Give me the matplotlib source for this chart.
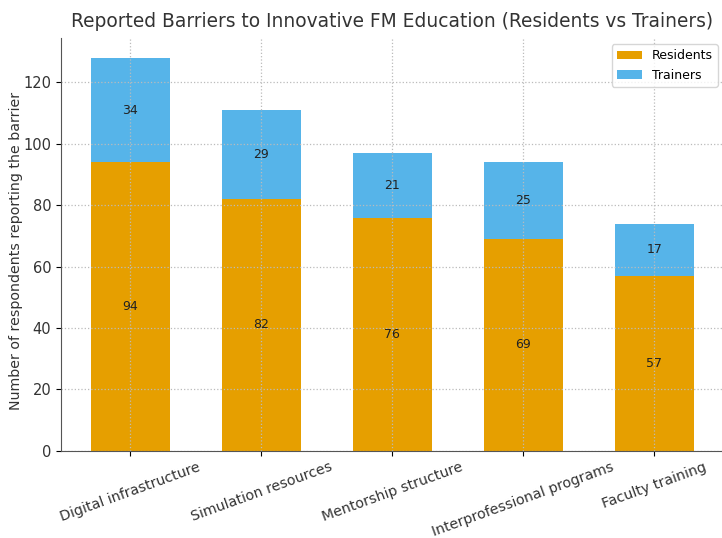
import matplotlib.pyplot as plt
import numpy as np

barriers = ["Digital infrastructure", "Simulation resources", "Mentorship structure",
            "Interprofessional programs", "Faculty training"]
residents = [94, 82, 76, 69, 57]
trainers = [34, 29, 21, 25, 17]

x = np.arange(len(barriers))
width = 0.6

fig = plt.figure(figsize=(7.22, 5.38), dpi=100)
ax = fig.add_axes([0.0845, 0.162, 0.918, 0.767])

ax.bar(x, residents, width, color="#E69F00", label="Residents")
ax.bar(x, trainers, width, bottom=residents, color="#56B4E9", label="Trainers")

# value labels in the middle of each segment
for i in range(len(x)):
    ax.text(x[i], residents[i] / 2, str(residents[i]), ha="center", va="center",
            fontsize=9, color="#222222")
    ax.text(x[i], residents[i] + trainers[i] / 2, str(trainers[i]), ha="center",
            va="center", fontsize=9, color="#222222")

ax.set_xticks(x)
ax.set_xticklabels(barriers, rotation=20, ha="center", fontsize=10.2, color="#333333")
ax.tick_params(axis="x", pad=3)
ax.tick_params(axis="y", labelsize=10.5, labelcolor="#333333")
ax.set_ylabel("Number of respondents reporting the barrier", fontsize=10.2,
              color="#333333")
ax.yaxis.set_label_coords(-0.058, 0.485)
ax.set_title("Reported Barriers to Innovative FM Education (Residents vs Trainers)",
             fontsize=13.4, color="#333333", pad=8)

ax.grid(True, linestyle=":", color="#bbbbbb", linewidth=0.9)
ax.spines["top"].set_visible(False)
ax.spines["right"].set_visible(False)
ax.spines["left"].set_color("#555555")
ax.spines["bottom"].set_color("#555555")
ax.legend(loc="upper right", fontsize=9)

fig.savefig("out.png", dpi=100)
